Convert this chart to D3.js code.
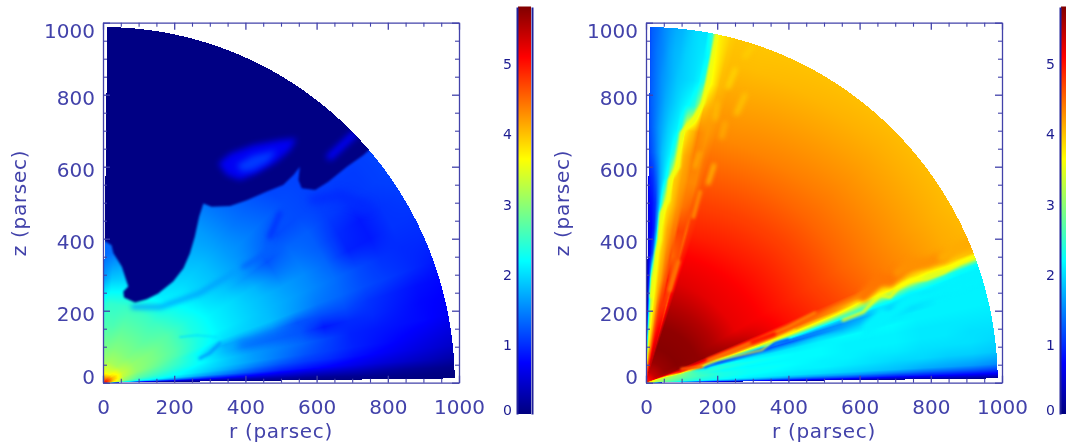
<!doctype html>
<html>
<head>
<meta charset="utf-8">
<style>
body{ margin:0; background:#fff; overflow:hidden; }
canvas, svg{ position:absolute; left:0; top:0; }
text{ font-family:"DejaVu Sans"; }
</style>
<script src="https://d3js.org/d3.v7.min.js"></script>
</head>
<body>
<script>
var majorTicks = [0, 200, 400, 600, 800, 1000];
var minorTicks = [50, 100, 150, 250, 300, 350, 450, 500, 550, 650, 700, 750, 850, 900, 950];
var barTicks = [0, 1, 2, 3, 4, 5];
var barMax = 5.79;
var sectorRadius = 988, sectorMinAngle = 0.7;

var jetStops = [0, 0.72, 2.17, 3.62, 5.07, 5.79];
var jetColors = ["#000080", "#0000ff", "#00ffff", "#ffff00", "#ff0000", "#800000"];

// radii of the grid columns (parsec)
var radii = [10, 30, 60, 100, 160, 220, 290, 360, 430, 500, 570, 640, 710, 780, 850, 920, 990];

// left panel: one row per angle (degrees)
var leftAngles = [0.6, 1.5, 2.5, 4, 6, 8, 11, 14, 17, 20, 24, 28, 32, 36, 40, 45, 50, 60, 70, 80, 85, 89.4];
var leftValues = [
  [3.4,1.2,.3,.2,.1,.1,.1,.1,.05,.05,0,0,0,0,0,0,0],
  [4.3,2.4,1.2,.7,.55,.45,.35,.3,.25,.2,.15,.12,.1,.08,.05,.02,0],
  [4.7,3,2.2,1.85,1.55,1.25,.95,.75,.6,.5,.4,.35,.3,.22,.15,.1,.05],
  [4.9,3.5,2.65,2.3,2.1,1.9,1.6,1.35,1.1,.9,.8,.7,.6,.5,.42,.33,.22],
  [4.9,3.7,2.95,2.5,2.3,2.15,1.9,1.65,1.4,1.2,1.05,.95,.8,.7,.6,.5,.4],
  [4.9,3.8,3.05,2.65,2.42,2.2,2,1.8,1.6,1.4,1.2,1.05,.9,.8,.7,.6,.5],
  [4.9,3.9,3.1,2.75,2.55,2.35,2.12,1.85,1.6,1.45,1.3,1.1,.9,.85,.8,.75,.65],
  [4.9,3.9,3.15,2.85,2.65,2.45,2.12,1.75,1.5,1.35,1.2,.85,.95,.95,.85,.75,.7],
  [4.9,4,3.25,2.95,2.75,2.5,2.12,1.7,1.65,1.5,1.2,1.15,1.15,1,.9,.8,.75],
  [4.9,4,3.25,3,2.8,2.6,2.27,2,1.9,1.8,1.6,1.4,1.3,1.15,1.05,.95,.85],
  [4.9,4,3.3,3,2.85,2.65,2.32,2.1,1.95,1.8,1.65,1.5,1.35,1.15,1,.95,.95],
  [4.9,4,3.3,3,2.85,2.65,2.32,2.1,1.95,1.8,1.62,1.5,1.3,.9,.85,1,1],
  [4.8,3.9,3.25,3,2.85,2.65,2.32,2.1,1.95,1.75,1.4,1.4,1.25,.95,.85,1,1.05],
  [4.8,3.8,3.25,2.95,2.8,2.65,2.32,2.05,1.85,1.55,1.2,1.3,1.25,1.05,1,1.05,1.1],
  [4.8,3.8,3.2,2.95,2.75,2.6,2.27,2,1.8,1.6,1.35,1.15,1.15,1.1,1.05,1.05,1.1],
  [4.7,3.7,3.15,2.9,2.7,2.55,2.22,1.95,1.8,1.6,1.45,1.3,1.15,1.1,1.1,1.1,1.1],
  [4.6,3.6,3.1,2.9,2.7,2.5,2.12,1.95,1.8,1.6,1.4,1.25,1.1,1.1,1.1,1.1,1.1],
  [4.5,3.5,3.1,2.9,2.7,2.5,2.02,1.85,1.7,1.6,1.4,1.2,1.1,1.1,1.1,1.1,1.1],
  [4.4,3.5,3.1,2.9,2.7,2.5,1.97,1.8,1.6,1.5,1.3,1.2,1.1,1.1,1.1,1.1,1.1],
  [4.2,3.5,3.05,2.85,2.6,2.45,1.9,1.5,1.4,1.3,1.2,1.1,1.1,1.1,1.1,1.1,1.1],
  [4,3.5,3.05,2.85,2.6,2.45,1.85,1.4,1.3,1.2,1.2,1.1,1.1,1.1,1.1,1.1,1.1],
  [3.8,3.4,3,2.8,2.6,2.35,1.6,1.3,1.3,1.2,1.2,1.1,1.1,1.1,1.1,1.1,1.1]
];

// right panel
var rightAngles = [0.6, 1, 1.5, 2.2, 3, 5, 7, 9, 11, 13, 14.5, 15.5, 16.5, 17.5, 18.5, 19.5, 20.5, 21.5, 23, 30, 45, 70, 72, 74, 75, 76, 78, 79, 80, 81, 82, 83, 84, 85, 86, 87, 88, 89, 89.4];
var rightValues = [
  [1.5,.6,.3,.2,.15,.15,.15,.1,.1,.1,.1,.05,.05,.05,0,0,0],
  [3,2,1.3,1,.9,.8,.75,.7,.65,.6,.55,.5,.45,.4,.4,.35,.3],
  [3.5,2.6,2.1,1.7,1.6,1.5,1.4,1.3,1.2,1.15,1.1,1,.9,.85,.8,.75,.7],
  [3.7,2.9,2.5,2.3,2.1,2,1.9,1.8,1.7,1.65,1.6,1.5,1.4,1.3,1.25,1.2,1.1],
  [3.8,3,2.7,2.5,2.3,2.2,2.1,2.05,2,1.95,1.9,1.85,1.8,1.7,1.65,1.6,1.5],
  [3.9,3.1,2.8,2.6,2.4,2.3,2.2,2.15,2.1,2.1,2.05,2,1.95,1.95,1.9,1.9,1.85],
  [3.9,3.2,2.9,2.7,2.5,2.3,2.2,2.2,2.15,2.1,2.1,2.05,2.05,2,2,2,1.95],
  [3.9,3.2,3,2.8,2.45,2.2,2.15,2.15,2.15,2.15,2.1,2.1,2.1,2.05,2.05,2,2],
  [3.9,3.3,3.05,2.9,2.4,2.35,2.25,2.2,2.15,2.15,2.1,2.1,2.1,2.05,2.05,2.05,2.05],
  [3.9,3.3,3.1,3,2.2,2.3,2.1,2.05,2.05,2.1,2.15,2.15,2.15,2.1,2.1,2.1,2.1],
  [3.9,3.4,3.2,3.4,1.9,1.7,1.75,1.6,1.7,1.9,1.85,2,2.05,2.1,2.1,2.1,2.1],
  [3.9,3.5,3.4,4,2.8,1.3,1.5,1.2,1.3,1.5,1.65,1.85,1.9,1.95,2.1,2.1,2.1],
  [4,3.6,3.6,4.6,3.9,2.6,2.2,1.8,1.5,1.5,1.55,1.7,1.8,1.75,2.05,2.1,2.1],
  [4,3.8,4,4.9,4.6,3.7,3.3,3,2.6,2.1,1.9,1.9,2,1.9,2.05,2.1,2.1],
  [4.1,4,4.4,5,4.8,4.4,4.1,3.8,3.6,3.2,2.7,2.4,2.3,2.2,2.15,2.1,2.1],
  [4.2,4.4,4.8,5.2,4.9,4.7,4.6,4.4,4.2,3.9,3.6,3.1,2.9,2.6,2.5,2.3,2.2],
  [4.4,4.8,5.2,5.4,5.2,4.9,4.9,4.9,4.6,4.4,4.2,3.7,3.65,3.5,3.4,3.5,3.3],
  [4.6,5.2,5.4,5.5,5.3,5.1,5,4.9,4.8,4.6,4.35,4.2,3.9,3.9,3.75,3.9,4],
  [4.8,5.3,5.55,5.7,5.7,5.6,5.45,5.2,5,4.85,4.7,4.55,4.4,4.3,4.2,4.1,4.05],
  [5,5.4,5.65,5.75,5.7,5.5,5.2,5.1,4.95,4.8,4.65,4.5,4.38,4.27,4.17,4.08,4],
  [5,5.4,5.65,5.75,5.7,5.5,5.2,5.1,4.95,4.8,4.65,4.5,4.38,4.27,4.17,4.08,4],
  [5,5.4,5.65,5.75,5.7,5.5,5.25,5.1,4.9,4.75,4.6,4.45,4.3,4.2,4.1,4,3.95],
  [5,5.4,5.65,5.75,5.7,5.5,5.25,5.1,4.9,4.75,4.6,4.45,4.3,4.2,4.1,4,3.95],
  [5,5.4,5.5,5.5,5.3,5.1,5,4.9,4.8,4.7,4.55,4.45,4.3,4.2,4.1,4,3.95],
  [5,5.3,5.4,5.3,5,4.6,4.7,4.6,4.5,4.6,4.45,4.4,4.25,4.15,4.05,4,3.95],
  [5,5.4,5.4,5.3,5.1,4.8,4.6,4.6,4.7,4.5,4.3,4.3,4.2,4.15,4,3.95,3.9],
  [4.8,5.2,5.3,5.2,5,4.8,4.9,4.5,4.7,4.4,4.3,4.35,4.3,3.95,3.5,3.6,3.7],
  [4.7,5.1,5.2,5.1,4.9,4.8,4.6,4.6,4.4,4.3,4.2,4.2,4.05,3.1,2.4,2.2,2.5],
  [4.6,5,5,4.9,4.8,4.7,4.5,4.4,4.35,4.2,4.15,4.1,3.9,2.4,2.1,2.05,2],
  [4.6,4.9,4.9,4.7,4.6,4.5,4.3,4.3,4.2,4.05,4,3.95,3.7,2.2,2,2,2],
  [4.5,4.8,4.7,4.5,4.4,4.3,4.1,4.1,4.1,3.9,3.9,3.4,2.4,2.1,1.95,1.95,1.95],
  [4.4,4.7,4.6,4.3,4.1,4,4,3.95,3.9,3.8,3.3,2.4,2.1,2,1.9,1.9,1.85],
  [4.3,4.6,4.4,4.1,3.9,3.85,3.8,3.8,3.75,3.4,2.3,2.1,2,1.9,1.85,1.8,1.75],
  [4.2,4.4,4.2,3.9,3.7,3.6,3.6,3.5,3.2,2.4,2,1.95,1.9,1.8,1.75,1.75,1.7],
  [4,4.1,3.9,3.6,3.5,3.4,3.3,2.2,1.7,1.6,1.7,1.8,1.75,1.7,1.65,1.65,1.6],
  [3.8,3.8,3.5,3.3,3.1,3,2.9,1.2,.9,1,1.3,1.55,1.6,1.55,1.55,1.5,1.5],
  [3.5,3.4,3,2.5,2,1.7,1.4,.8,.7,.8,1,1.3,1.4,1.4,1.4,1.4,1.35],
  [3,2.8,2.2,1.3,.7,.4,.4,.5,.6,.7,.85,1.1,1.2,1.25,1.25,1.25,1.25],
  [2.5,2,1.2,.6,.3,.2,.2,.3,.4,.5,.65,.9,1,1.05,1.1,1.1,1.1]
];

// features too sharp for the grid, [r, z] in parsec
var leftShell = [[1,396],[24,382],[29,360],[53,322],[62,294],[71,267],[57,253],[59,237],[90,223],[123,232],[155,248],[197,281],[226,318],[244,359],[258,406],[270,461],[282,498],[305,489],[357,491],[404,507],[460,531],[506,549],[535,577],[553,600],[549,563],[558,540],[596,535],[633,558],[685,600],[731,632],[900,780],[900,1200],[-50,1200],[-50,396]];
var leftCloud = [[324,609],[357,637],[422,660],[497,674],[544,679],[525,646],[488,614],[432,582],[385,563],[347,577]];
var leftCloudCore = [[375,605],[422,632],[488,646],[464,614],[422,591],[390,586]];
var leftStreaks = [
  {value:1.6, width:4, blur:2.5, pts:[[84,210],[160,210],[272,249],[393,321]]},
  {value:1.25, width:4, blur:2.5, pts:[[393,321],[460,360],[469,405]]},
  {value:1, width:5, blur:2.5, pts:[[469,405],[497,471]]},
  {value:0.95, width:8, blur:4, pts:[[590,508],[666,521],[742,488]]},
  {value:2, width:1.5, blur:1, pts:[[216,127],[264,132],[320,127]]},
  {value:1.6, width:3, blur:1.5, pts:[[329,110],[300,82],[272,68]]},
  {value:1.2, width:5, blur:4, pts:[[385,105],[553,146]]}
];
var leftStrip = [{value:0.7, width:7, blur:3, pts:[[638,628],[703,688]]}];

var rightRidgeBelow = [[610,162],[629,182],[657,210],[685,203],[708,229],[742,251],[788,254],[834,271],[882,299],[929,316],[1000,350],[1000,300],[882,255],[742,207],[610,122]];
var rightStreaks = [
  {value:4.4, width:11, blur:2.5, pts:[[610,240],[657,288],[685,281],[708,307]]},
  {value:4.25, width:11, blur:2.5, pts:[[708,307],[742,329],[788,332],[834,349]]},
  {value:4.1, width:11, blur:2.5, pts:[[834,349],[882,377],[929,394],[1000,420]]},
  {value:3.6, width:3, blur:1.5, pts:[[553,174],[610,196],[629,216],[657,244],[685,237],[708,263],[742,285],[788,288],[834,305],[882,333],[929,350],[1000,385]]},
  {value:3.55, width:4, blur:1.2, pts:[[199,966],[175,841],[161,777],[138,739],[100,693],[91,600],[67,563],[63,507],[44,471],[39,396],[30,360],[25,313],[16,239]]},
  {value:4.3, width:3, blur:1.5, pts:[[174,63],[315,119],[399,155],[475,194]]},
  {value:1.25, width:3, blur:1, pts:[[166,44],[185,52],[278,77],[343,96],[362,110],[399,119]]},
  {value:3.6, width:1.5, blur:0.8, pts:[[118,33],[166,49],[202,63],[326,91],[354,114],[419,146]]},
  {value:4.6, width:3, blur:1, pts:[[100,38],[157,44]]},
  {value:5, width:4, blur:1.5, pts:[[298,113],[360,135]]},
  {value:3.9, width:5, blur:2.5, pts:[[278,906],[297,933]]},
  {value:3.85, width:5, blur:2.5, pts:[[231,822],[250,869]]},
  {value:3.95, width:5, blur:2.5, pts:[[255,749],[278,799]]},
  {value:4, width:5, blur:2.5, pts:[[194,735],[199,777]]},
  {value:4.1, width:5, blur:2.5, pts:[[213,683],[222,721]]},
  {value:4, width:4, blur:2, pts:[[175,554],[191,604]]},
  {value:4.1, width:4, blur:2, pts:[[138,600],[150,638]]},
  {value:4.3, width:4, blur:1.5, pts:[[133,461],[152,530]]},
  {value:4.4, width:4, blur:1.5, pts:[[67,257],[91,336]]}
];

var width = 1066, height = 445;
var axisColor = "#4242aa", barTextColor = "#1c1c90";

var jet = d3.scaleLinear().domain(jetStops).range(jetColors).clamp(true);
var rIndex = d3.scaleLinear().domain(radii).range(d3.range(radii.length)).clamp(true);

// colour table so the pixel loop doesn't parse a string each time
var table = d3.range(1024).map(function(i){
  var c = d3.rgb(jet(i / 1023 * barMax));
  return [c.r, c.g, c.b];
});

function sample(angleIndex, values, r, theta){
  var a = angleIndex(theta), b = rIndex(r);
  var a0 = Math.floor(a), b0 = Math.floor(b);
  var a1 = Math.min(a0 + 1, values.length - 1), b1 = Math.min(b0 + 1, radii.length - 1);
  var fa = a - a0, fb = b - b0;
  return (values[a0][b0] * (1 - fb) + values[a0][b1] * fb) * (1 - fa) +
         (values[a1][b0] * (1 - fb) + values[a1][b1] * fb) * fa;
}

var svg = d3.select("body").append("svg").attr("width", width).attr("height", height);

function panel(dx, angles, values, drawExtras){
  var x = d3.scaleLinear().domain([0, 1000]).range([103 + dx, 459 + dx]);
  var y = d3.scaleLinear().domain([0, 1000]).range([382.7, 22.7]);
  var angleIndex = d3.scaleLinear().domain(angles).range(d3.range(angles.length)).clamp(true);

  var canvas = d3.select("body").insert("canvas", "svg").attr("width", width).attr("height", height).node();
  var ctx = canvas.getContext("2d");

  var img = ctx.createImageData(width, height);
  var px, py;
  for(py = 0; py < height; py++){
    for(px = 0; px < width; px++){
      var r0 = x.invert(px + 0.5), z0 = y.invert(py + 0.5);
      if(r0 < 0 || z0 < 0) continue;
      var R = Math.hypot(r0, z0);
      if(R > sectorRadius) continue;
      var th = Math.atan2(z0, r0) * 180 / Math.PI;
      var v = sample(angleIndex, values, R, th);
      var c = table[Math.max(0, Math.min(1023, Math.round(v / barMax * 1023)))];
      var k = (py * width + px) * 4;
      img.data[k] = c[0]; img.data[k + 1] = c[1]; img.data[k + 2] = c[2]; img.data[k + 3] = 255;
    }
  }
  ctx.putImageData(img, 0, 0);

  var curve = d3.line().x(function(d){ return x(d[0]); }).y(function(d){ return y(d[1]); }).context(ctx);
  drawExtras(ctx, curve);
  ctx.filter = "none";

  // cut everything back to the sector
  var out = ctx.getImageData(0, 0, width, height);
  for(py = 0; py < height; py++){
    for(px = 0; px < width; px++){
      var r1 = x.invert(px + 0.5), z1 = y.invert(py + 0.5);
      var inside = r1 >= 0 && z1 >= 0 && Math.hypot(r1, z1) <= sectorRadius;
      var t1 = Math.atan2(z1, r1) * 180 / Math.PI;
      if(!inside || t1 < sectorMinAngle || t1 > 90 - sectorMinAngle) out.data[(py * width + px) * 4 + 3] = 0;
    }
  }
  ctx.putImageData(out, 0, 0);

  // frame with IDL style inward ticks on all four sides
  var g = svg.append("g");
  function frame(axis, tx, ty, labelled, pad){
    var major = g.append("g").attr("transform", "translate(" + tx + "," + ty + ")")
      .call(axis.tickValues(majorTicks).tickSize(-7).tickSizeOuter(0).tickPadding(pad)
        .tickFormat(labelled ? d3.format("d") : ""));
    major.selectAll("path, line").attr("stroke", axisColor).attr("stroke-width", 1.3);
    major.selectAll("text").attr("fill", axisColor).attr("font-size", 20).attr("font-family", "DejaVu Sans");
    return major;
  }
  function minor(axis, tx, ty){
    var m = g.append("g").attr("transform", "translate(" + tx + "," + ty + ")")
      .call(axis.tickValues(minorTicks).tickSize(-4).tickSizeOuter(0).tickFormat(""));
    m.select("path").remove();
    m.selectAll("line").attr("stroke", axisColor).attr("stroke-width", 1.1);
  }
  frame(d3.axisBottom(x), 0, 382.7, true, 17);
  frame(d3.axisTop(x), 0, 22.7, false, 3);
  var leftAxis = frame(d3.axisLeft(y), 103 + dx, 0, true, 8);
  frame(d3.axisRight(y), 459 + dx, 0, false, 3);
  minor(d3.axisBottom(x), 0, 382.7);
  minor(d3.axisTop(x), 0, 22.7);
  minor(d3.axisLeft(y), 103 + dx, 0);
  minor(d3.axisRight(y), 459 + dx, 0);
  leftAxis.selectAll("text").attr("transform", function(d){
    return "translate(0," + (d === 0 ? -6 : d === 1000 ? 8 : 3) + ")";
  });

  g.append("text").attr("x", 281 + dx).attr("y", 438).attr("text-anchor", "middle")
    .attr("fill", axisColor).attr("font-size", 20).attr("letter-spacing", 0.7).text("r (parsec)");
  g.append("text").attr("transform", "translate(" + (26 + dx) + ",203) rotate(-90)").attr("text-anchor", "middle")
    .attr("fill", axisColor).attr("font-size", 20).attr("letter-spacing", 0.7).text("z (parsec)");

  // colour bar
  var bar = d3.scaleLinear().domain([0, barMax]).range([414, 7]);
  var steps = d3.range(0, barMax, barMax / 407);
  g.append("g").selectAll("rect").data(steps).join("rect")
    .attr("x", 518 + dx).attr("width", 13)
    .attr("y", function(d){ return bar(d) - 1.5; }).attr("height", 1.5)
    .attr("fill", function(d){ return jet(d); });
  var barAxis = g.append("g").attr("transform", "translate(" + (517 + dx) + ",0)")
    .call(d3.axisLeft(bar).tickValues(barTicks).tickSize(0).tickPadding(5).tickFormat(d3.format("d")));
  barAxis.select("path").attr("stroke", "#20209a").attr("stroke-width", 2);
  barAxis.selectAll("text").attr("fill", barTextColor).attr("font-size", 14)
    .attr("transform", function(d){ return "translate(0," + (d === 0 ? -4 : 1.5) + ")"; });
  var barEdge = g.append("g").attr("transform", "translate(" + (532 + dx) + ",0)")
    .call(d3.axisRight(bar).tickValues([]).tickSize(0));
  barEdge.select("path").attr("stroke", "#20209a").attr("stroke-width", 2);
}

function streaks(ctx, curve, list){
  list.forEach(function(s){
    ctx.filter = "blur(" + s.blur + "px)";
    ctx.strokeStyle = jet(s.value);
    ctx.lineWidth = s.width;
    ctx.lineCap = "round";
    ctx.lineJoin = "round";
    ctx.beginPath();
    curve(s.pts);
    ctx.stroke();
  });
}

function region(ctx, curve, pts, value, blur){
  ctx.filter = "blur(" + blur + "px)";
  ctx.fillStyle = jet(value);
  ctx.beginPath();
  curve(pts);
  ctx.closePath();
  ctx.fill();
}

panel(0, leftAngles, leftValues, function(ctx, curve){
  streaks(ctx, curve, leftStreaks);
  region(ctx, curve, leftShell, 0.02, 1);
  region(ctx, curve, leftCloud, 0.65, 3);
  region(ctx, curve, leftCloudCore, 1.05, 3);
  streaks(ctx, curve, leftStrip);
});
panel(543, rightAngles, rightValues, function(ctx, curve){
  region(ctx, curve, rightRidgeBelow, 2.1, 2.5);
  streaks(ctx, curve, rightStreaks);
});
</script>
</body>
</html>
